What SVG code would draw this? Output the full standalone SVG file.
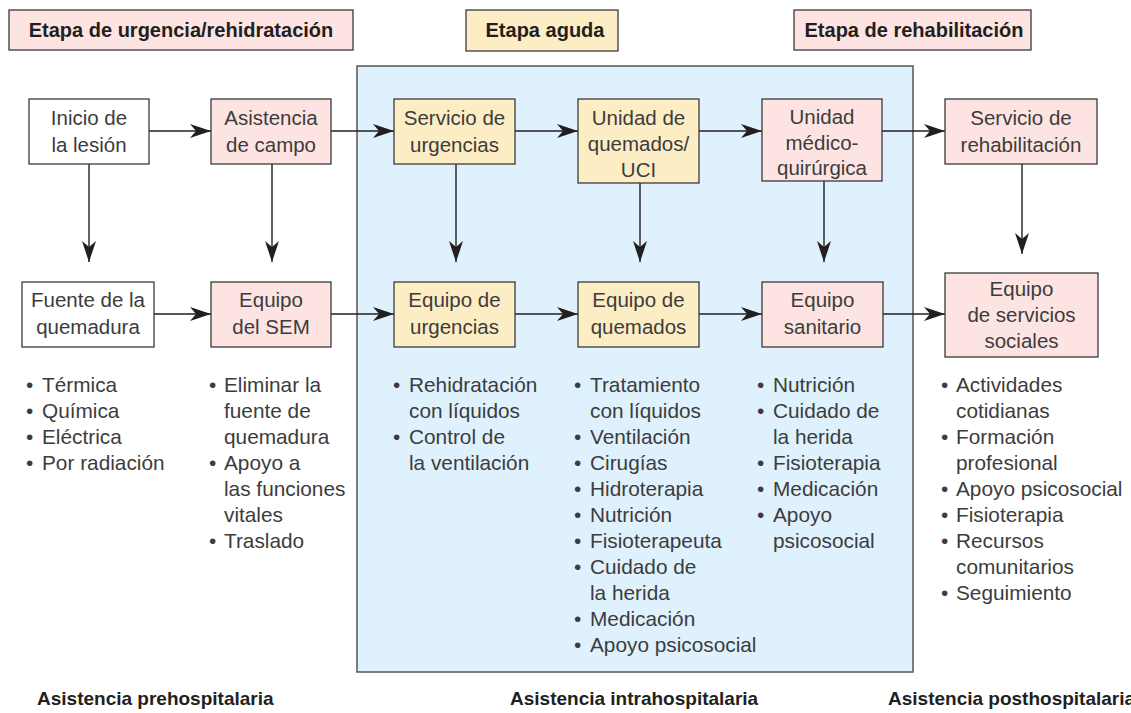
<svg xmlns="http://www.w3.org/2000/svg" width="1131" height="713" viewBox="0 0 1131 713">
<defs>
<marker id="ah" markerUnits="userSpaceOnUse" markerWidth="24" markerHeight="16" viewBox="-22 -8 24 16" refX="0" refY="0" orient="auto">
<path d="M0,0 L-21,-7 L-15,0 L-21,7 Z" fill="#231f20"/>
</marker>
</defs>
<style>
.box{stroke:#3a3a3a;stroke-width:1.3}
.w{fill:#ffffff}
.p{fill:#fde4e2}
.y{fill:#fdedc5}
.nt{font-family:"Liberation Sans",Arial,sans-serif;font-size:20.5px;fill:#3c3c3c;text-anchor:middle}
.ht{font-family:"Liberation Sans",Arial,sans-serif;font-size:20px;font-weight:bold;fill:#231f20;text-anchor:middle}
.ft{font-family:"Liberation Sans",Arial,sans-serif;font-size:19px;font-weight:bold;fill:#231f20}
.bl{font-family:"Liberation Sans",Arial,sans-serif;font-size:20.8px;fill:#3c3c3c}
.c{stroke:#231f20;stroke-width:1.4;fill:none;marker-end:url(#ah)}
</style>
<rect width="1131" height="713" fill="#ffffff"/>

<g id="container">
<rect x="357" y="66" width="556" height="606" fill="#dff1fc" stroke="#555555" stroke-width="1.5"/>
</g>

<g id="h1"><rect class="box p" x="9" y="10" width="344" height="40"/><text class="ht" x="181" y="37">Etapa de urgencia/rehidratación</text></g>
<g id="h2"><rect class="box y" x="466" y="10" width="152" height="41"/><text class="ht" x="545" y="37">Etapa aguda</text></g>
<g id="h3"><rect class="box p" x="794" y="10" width="237" height="40"/><text class="ht" x="914" y="37">Etapa de rehabilitación</text></g>

<g id="connectors">
<line class="c" x1="149" y1="131" x2="211" y2="131"/>
<line class="c" x1="331" y1="131" x2="394" y2="131"/>
<line class="c" x1="515" y1="131" x2="578" y2="131"/>
<line class="c" x1="699" y1="131" x2="762" y2="131"/>
<line class="c" x1="882" y1="131" x2="945" y2="131"/>
<line class="c" x1="154" y1="314" x2="211" y2="314"/>
<line class="c" x1="331" y1="314" x2="394" y2="314"/>
<line class="c" x1="515" y1="314" x2="578" y2="314"/>
<line class="c" x1="699" y1="314" x2="762" y2="314"/>
<line class="c" x1="883" y1="314" x2="945" y2="314"/>
<line class="c" x1="89" y1="164" x2="89" y2="262"/>
<line class="c" x1="272" y1="164" x2="272" y2="262"/>
<line class="c" x1="456" y1="164" x2="456" y2="262"/>
<line class="c" x1="640" y1="183" x2="640" y2="262"/>
<line class="c" x1="824" y1="181" x2="824" y2="262"/>
<line class="c" x1="1022" y1="164" x2="1022" y2="254"/>
</g>

<g id="n1"><rect class="box w" x="29" y="99" width="120" height="65"/><text class="nt"><tspan x="89" y="125">Inicio de</tspan><tspan x="89" y="152">la lesión</tspan></text></g>
<g id="n2"><rect class="box p" x="211" y="99" width="120" height="65"/><text class="nt"><tspan x="271" y="125">Asistencia</tspan><tspan x="271" y="152">de campo</tspan></text></g>
<g id="n3"><rect class="box y" x="394" y="99" width="121" height="65"/><text class="nt"><tspan x="454.5" y="125">Servicio de</tspan><tspan x="454.5" y="152">urgencias</tspan></text></g>
<g id="n4"><rect class="box y" x="578" y="99" width="121" height="84"/><text class="nt"><tspan x="638.5" y="125">Unidad de</tspan><tspan x="638.5" y="151">quemados/</tspan><tspan x="638.5" y="177">UCI</tspan></text></g>
<g id="n5"><rect class="box p" x="762" y="99" width="120" height="82"/><text class="nt"><tspan x="822" y="124">Unidad</tspan><tspan x="822" y="150">médico-</tspan><tspan x="822" y="175">quirúrgica</tspan></text></g>
<g id="n6"><rect class="box p" x="945" y="99" width="152" height="65"/><text class="nt"><tspan x="1021" y="125">Servicio de</tspan><tspan x="1021" y="152">rehabilitación</tspan></text></g>

<g id="n7"><rect class="box w" x="22" y="282" width="132" height="65"/><text class="nt"><tspan x="88" y="307">Fuente de la</tspan><tspan x="88" y="334">quemadura</tspan></text></g>
<g id="n8"><rect class="box p" x="211" y="282" width="120" height="65"/><text class="nt"><tspan x="271" y="307">Equipo</tspan><tspan x="271" y="334">del SEM</tspan></text></g>
<g id="n9"><rect class="box y" x="394" y="282" width="121" height="65"/><text class="nt"><tspan x="454.5" y="307">Equipo de</tspan><tspan x="454.5" y="334">urgencias</tspan></text></g>
<g id="n10"><rect class="box y" x="578" y="282" width="121" height="65"/><text class="nt"><tspan x="638.5" y="307">Equipo de</tspan><tspan x="638.5" y="334">quemados</tspan></text></g>
<g id="n11"><rect class="box p" x="762" y="282" width="121" height="65"/><text class="nt"><tspan x="822.5" y="307">Equipo</tspan><tspan x="822.5" y="334">sanitario</tspan></text></g>
<g id="n12"><rect class="box p" x="945" y="273" width="153" height="84"/><text class="nt"><tspan x="1021.5" y="296">Equipo</tspan><tspan x="1021.5" y="322">de servicios</tspan><tspan x="1021.5" y="348">sociales</tspan></text></g>

<g id="list1"><text class="bl">
<tspan x="26" y="392">•</tspan><tspan x="42" y="392">Térmica</tspan>
<tspan x="26" y="418">•</tspan><tspan x="42" y="418">Química</tspan>
<tspan x="26" y="444">•</tspan><tspan x="42" y="444">Eléctrica</tspan>
<tspan x="26" y="470">•</tspan><tspan x="42" y="470">Por radiación</tspan>
</text></g>
<g id="list2"><text class="bl">
<tspan x="209" y="392">•</tspan><tspan x="224" y="392">Eliminar la</tspan>
<tspan x="224" y="418">fuente de</tspan>
<tspan x="224" y="444">quemadura</tspan>
<tspan x="209" y="470">•</tspan><tspan x="224" y="470">Apoyo a</tspan>
<tspan x="224" y="496">las funciones</tspan>
<tspan x="224" y="522">vitales</tspan>
<tspan x="209" y="548">•</tspan><tspan x="224" y="548">Traslado</tspan>
</text></g>
<g id="list3"><text class="bl">
<tspan x="393" y="392">•</tspan><tspan x="409" y="392">Rehidratación</tspan>
<tspan x="409" y="418">con líquidos</tspan>
<tspan x="393" y="444">•</tspan><tspan x="409" y="444">Control de</tspan>
<tspan x="409" y="470">la ventilación</tspan>
</text></g>
<g id="list4"><text class="bl">
<tspan x="574" y="392">•</tspan><tspan x="590" y="392">Tratamiento</tspan>
<tspan x="590" y="418">con líquidos</tspan>
<tspan x="574" y="444">•</tspan><tspan x="590" y="444">Ventilación</tspan>
<tspan x="574" y="470">•</tspan><tspan x="590" y="470">Cirugías</tspan>
<tspan x="574" y="496">•</tspan><tspan x="590" y="496">Hidroterapia</tspan>
<tspan x="574" y="522">•</tspan><tspan x="590" y="522">Nutrición</tspan>
<tspan x="574" y="548">•</tspan><tspan x="590" y="548">Fisioterapeuta</tspan>
<tspan x="574" y="574">•</tspan><tspan x="590" y="574">Cuidado de</tspan>
<tspan x="590" y="600">la herida</tspan>
<tspan x="574" y="626">•</tspan><tspan x="590" y="626">Medicación</tspan>
<tspan x="574" y="652">•</tspan><tspan x="590" y="652">Apoyo psicosocial</tspan>
</text></g>
<g id="list5"><text class="bl">
<tspan x="757" y="392">•</tspan><tspan x="773" y="392">Nutrición</tspan>
<tspan x="757" y="418">•</tspan><tspan x="773" y="418">Cuidado de</tspan>
<tspan x="773" y="444">la herida</tspan>
<tspan x="757" y="470">•</tspan><tspan x="773" y="470">Fisioterapia</tspan>
<tspan x="757" y="496">•</tspan><tspan x="773" y="496">Medicación</tspan>
<tspan x="757" y="522">•</tspan><tspan x="773" y="522">Apoyo</tspan>
<tspan x="773" y="548">psicosocial</tspan>
</text></g>
<g id="list6"><text class="bl">
<tspan x="941" y="392">•</tspan><tspan x="956" y="392">Actividades</tspan>
<tspan x="956" y="418">cotidianas</tspan>
<tspan x="941" y="444">•</tspan><tspan x="956" y="444">Formación</tspan>
<tspan x="956" y="470">profesional</tspan>
<tspan x="941" y="496">•</tspan><tspan x="956" y="496">Apoyo psicosocial</tspan>
<tspan x="941" y="522">•</tspan><tspan x="956" y="522">Fisioterapia</tspan>
<tspan x="941" y="548">•</tspan><tspan x="956" y="548">Recursos</tspan>
<tspan x="956" y="574">comunitarios</tspan>
<tspan x="941" y="600">•</tspan><tspan x="956" y="600">Seguimiento</tspan>
</text></g>

<g id="footer">
<text class="ft" x="37" y="705">Asistencia prehospitalaria</text>
<text class="ft" x="510" y="705">Asistencia intrahospitalaria</text>
<text class="ft" x="888" y="705">Asistencia posthospitalaria</text>
</g>
</svg>
